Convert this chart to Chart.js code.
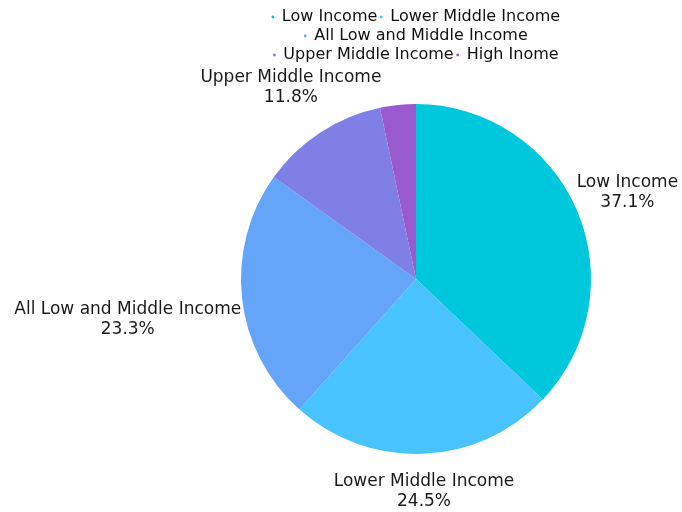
<!DOCTYPE html>
<html>
<head>
<meta charset="utf-8">
<script src="https://cdn.jsdelivr.net/npm/chart.js@4.4.1/dist/chart.umd.min.js"></script>
<style>
  html, body { margin: 0; padding: 0; background: #fff; }
  #wrap { width: 682px; height: 512px; }
</style>
</head>
<body>
<div id="wrap"><canvas id="pie"></canvas></div>
<script>
// income groups and their share (%)
const categories = [
  "Low Income",
  "Lower Middle Income",
  "All Low and Middle Income",
  "Upper Middle Income",
  "High Inome",
];
const shares = [37.1, 24.5, 23.3, 11.8, 3.3];
const sliceColors = ["#00c8dc", "#48c3fd", "#64a5f9", "#7f7fe6", "#9a5acf"];
// slices under this share get no outside label
const minLabelShare = 5;

const FONT = "'DejaVu Sans', sans-serif";

// draws "name\nxx.x%" just outside each slice, box pushed clear of the circle
const outsideLabels = {
  id: "outsideLabels",
  afterDatasetsDraw(chart) {
    const ctx = chart.ctx;
    const meta = chart.getDatasetMeta(0);
    const total = shares.reduce((a, b) => a + b, 0);
    ctx.save();
    ctx.font = "17px " + FONT;
    ctx.fillStyle = "#1a1a1a";
    ctx.textAlign = "center";
    ctx.textBaseline = "middle";
    const lineH = 20;
    meta.data.forEach((arc, i) => {
      const pct = (shares[i] / total) * 100;
      if (pct < minLabelShare) return;
      const lines = [categories[i], shares[i].toFixed(1) + "%"];
      const w = Math.max(...lines.map((t) => ctx.measureText(t).width));
      const h = lines.length * lineH;
      const mid = (arc.startAngle + arc.endAngle) / 2;
      const cx = arc.x, cy = arc.y, R = arc.outerRadius;
      let bx, by;
      // walk outwards until the label box no longer touches the pie
      for (let r = R; r < R + 300; r += 1) {
        bx = cx + Math.cos(mid) * r;
        by = cy + Math.sin(mid) * r;
        const nx = Math.max(bx - w / 2, Math.min(cx, bx + w / 2));
        const ny = Math.max(by - h / 2, Math.min(cy, by + h / 2));
        if (Math.hypot(nx - cx, ny - cy) > R) break;
      }
      // labels sit a little lower, more so towards the bottom
      by += 8 + 9 * Math.sin(mid);
      lines.forEach((t, k) => {
        ctx.fillText(t, bx, by - h / 2 + lineH / 2 + k * lineH);
      });
    });
    ctx.restore();
  },
};

new Chart(document.getElementById("pie"), {
  type: "pie",
  data: {
    labels: categories,
    datasets: [
      {
        data: shares,
        backgroundColor: sliceColors,
        borderWidth: 0,
        radius: 175,
      },
    ],
  },
  options: {
    responsive: true,
    maintainAspectRatio: false,
    animation: false,
    layout: { padding: { left: 236, right: 86, top: 6, bottom: 27 } },
    plugins: {
      tooltip: { enabled: false },
      legend: {
        position: "top",
        labels: {
          usePointStyle: true,
          pointStyle: "circle",
          boxWidth: 2,
          boxHeight: 2,
          padding: 3,
          color: "#111",
          font: { family: FONT, size: 16 },
        },
      },
    },
  },
  plugins: [outsideLabels],
});
</script>
</body>
</html>
